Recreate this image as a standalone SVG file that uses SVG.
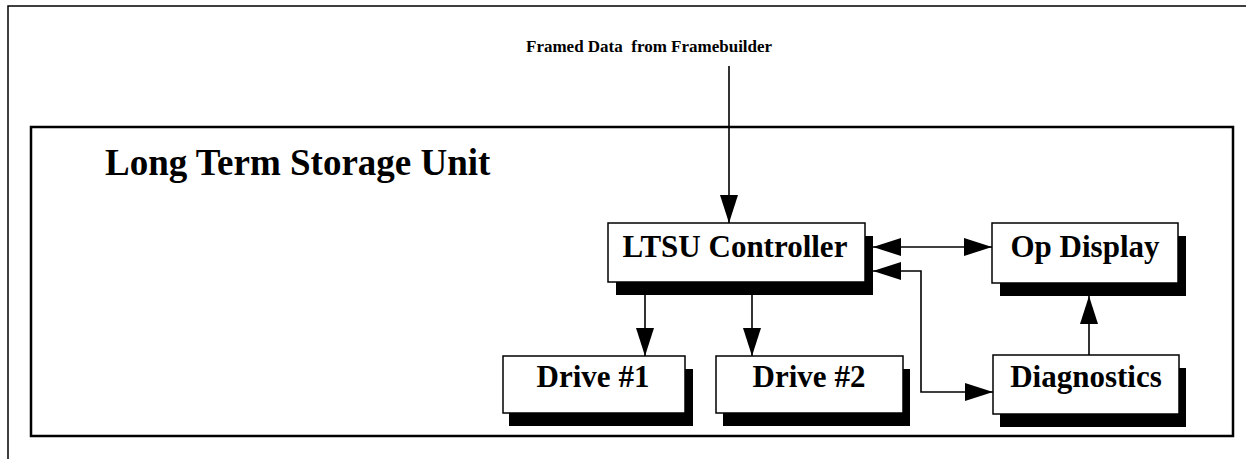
<svg xmlns="http://www.w3.org/2000/svg" width="1246" height="459" viewBox="0 0 1246 459">
<style>
.frame{fill:none;stroke:#000;stroke-width:1.5}
.container{fill:none;stroke:#000;stroke-width:2.5}
.box{fill:#fff;stroke:#000;stroke-width:1.5}
.shadow{fill:#000}
.lbl{font-family:"Liberation Serif","Times New Roman",serif;font-weight:bold;font-size:31px;fill:#000;text-anchor:middle}
.title{font-family:"Liberation Serif","Times New Roman",serif;font-weight:bold;font-size:37px;fill:#000}
.small{font-family:"Liberation Serif","Times New Roman",serif;font-weight:bold;font-size:17px;fill:#000}
.conn{fill:none;stroke:#000;stroke-width:1.6}
</style>
<defs>
<marker id="arr" markerUnits="userSpaceOnUse" markerWidth="28" markerHeight="18" refX="28" refY="9" orient="auto-start-reverse" viewBox="0 0 28 18">
<path d="M0,0 L28,9 L0,18 z" fill="#000"/>
</marker>
</defs>
<rect width="1246" height="459" fill="#fff"/>
<g id="outer-frame">
<path class="frame" d="M8,459 V6 H1246"/>
</g>
<g id="ltsu-container">
<rect class="container" x="31" y="127" width="1202" height="309"/>
<text class="title" x="105" y="175">Long Term Storage Unit</text>
</g>
<g id="framed-data-label">
<text class="small" x="526" y="52" xml:space="preserve">Framed Data  from Framebuilder</text>
</g>
<g id="ltsu-controller">
<rect class="shadow" x="616" y="236" width="257" height="59"/>
<rect class="box" x="608" y="223" width="257" height="59"/>
<text class="lbl" x="735" y="257">LTSU Controller</text>
</g>
<g id="op-display">
<rect class="shadow" x="1000" y="236" width="186" height="60"/>
<rect class="box" x="992" y="223" width="186" height="60"/>
<text class="lbl" x="1085" y="257">Op Display</text>
</g>
<g id="drive-1">
<rect class="shadow" x="509" y="369" width="184" height="57"/>
<rect class="box" x="503" y="356" width="182" height="57"/>
<text class="lbl" x="593" y="387">Drive #1</text>
</g>
<g id="drive-2">
<rect class="shadow" x="723" y="369" width="187" height="57"/>
<rect class="box" x="716" y="356" width="187" height="57"/>
<text class="lbl" x="809" y="387">Drive #2</text>
</g>
<g id="diagnostics">
<rect class="shadow" x="1000" y="368" width="186" height="59"/>
<rect class="box" x="993" y="355" width="186" height="59"/>
<text class="lbl" x="1086" y="387">Diagnostics</text>
</g>
<g id="connectors">
<line class="conn" x1="729" y1="66" x2="729" y2="223" marker-end="url(#arr)"/>
<line class="conn" x1="645" y1="295" x2="645" y2="356" marker-end="url(#arr)"/>
<line class="conn" x1="752" y1="295" x2="752" y2="356" marker-end="url(#arr)"/>
<line class="conn" x1="873" y1="247" x2="992" y2="247" marker-start="url(#arr)" marker-end="url(#arr)"/>
<path class="conn" d="M873,271 H921 V392 H993" marker-start="url(#arr)" marker-end="url(#arr)"/>
<line class="conn" x1="1089" y1="355" x2="1089" y2="296" marker-end="url(#arr)"/>
</g>
</svg>
